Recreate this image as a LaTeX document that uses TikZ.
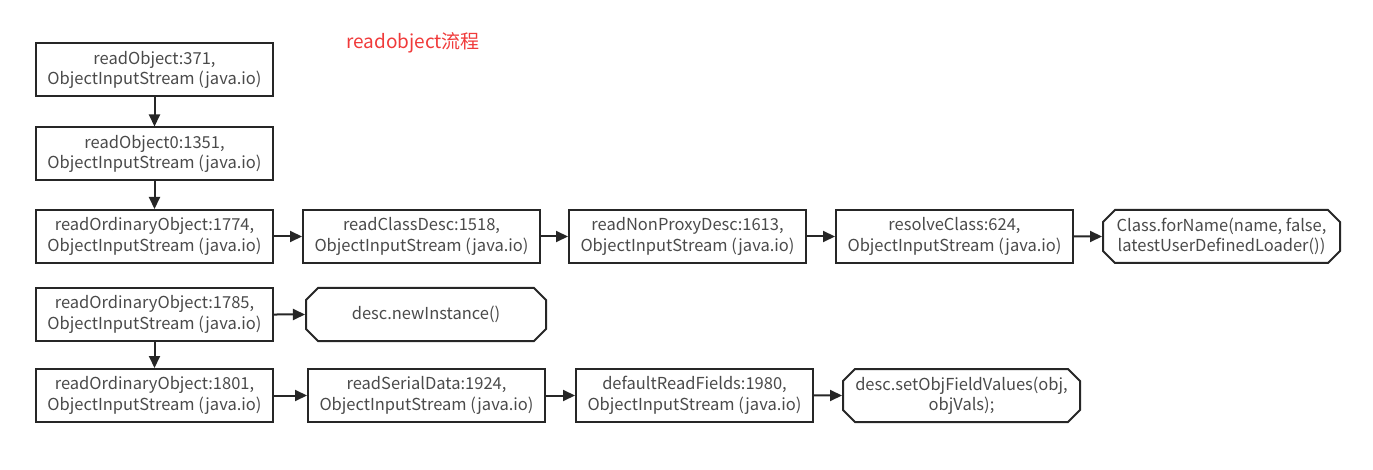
\documentclass[tikz,border=0pt]{standalone}
\usepackage{fontspec}
\setmainfont{Noto Sans CJK SC}
\usepackage{tikz}
\usetikzlibrary{positioning, shapes.misc, arrows.meta}

\definecolor{boxline}{HTML}{262626}
\definecolor{boxtext}{HTML}{4A4A4A}
\definecolor{titlered}{HTML}{F03A3A}

\begin{document}
\begin{tikzpicture}[x = 1pt, y = -1pt,
        callbox/.style = {shape = rectangle, draw = boxline, line width = 2pt,
            minimum width = 237pt, minimum height = 53pt, inner sep = 0pt,
            align = center, text = boxtext, font = \fontsize{16.5}{20.5}\selectfont},
        endbox/.style = {callbox, shape = chamfered rectangle,
            chamfered rectangle xsep = 6pt, chamfered rectangle ysep = 6pt},
        flow/.style = {-{Triangle[length = 12pt, width = 11pt]}, line width = 2pt, draw = boxline}]
            \useasboundingbox (0, 0) rectangle (1373, 470);
            \node [text = titlered, font = \fontsize{19}{22}\selectfont] (title) at (413, 43) {readobject流程};

            \node [callbox] (read) at (154.5, 70) {readObject:371,\\ObjectInputStream (java.io)};
            \node [callbox] (read0) at (154.5, 154) {readObject0:1351,\\ObjectInputStream (java.io)};
            \node [callbox] (ordinary) at (154.5, 236.5) {readOrdinaryObject:1774,\\ObjectInputStream (java.io)};
            \node [callbox] (classdesc) at (421.5, 236.5) {readClassDesc:1518,\\ObjectInputStream (java.io)};
            \node [callbox] (nonproxy) at (687.5, 236.5) {readNonProxyDesc:1613,\\ObjectInputStream (java.io)};
            \node [callbox] (resolve) at (954.5, 236.5) {resolveClass:624,\\ObjectInputStream (java.io)};
            \node [endbox] (forname) at (1221.5, 236.5) {Class.forName(name, false,\\latestUserDefinedLoader())};

            \node [callbox] (ordinary2) at (154.5, 314.5) {readOrdinaryObject:1785,\\ObjectInputStream (java.io)};
            \node [endbox, minimum width = 240pt] (newinst) at (426, 314.5) {desc.newInstance()};

            \node [callbox] (ordinary3) at (154.5, 395.5) {readOrdinaryObject:1801,\\ObjectInputStream (java.io)};
            \node [callbox] (serial) at (426.5, 395.5) {readSerialData:1924,\\ObjectInputStream (java.io)};
            \node [callbox] (fields) at (694.5, 395.5) {defaultReadFields:1980,\\ObjectInputStream (java.io)};
            \node [endbox] (setvals) at (961.5, 395.5) {desc.setObjFieldValues(obj,\\objVals);};

            \draw [flow] (read) -- (read0);
            \draw [flow] (read0) -- (ordinary);
            \draw [flow] (ordinary) -- (classdesc);
            \draw [flow] (classdesc) -- (nonproxy);
            \draw [flow] (nonproxy) -- (resolve);
            \draw [flow] (resolve) -- (forname);
            \draw [flow] (ordinary2) -- (newinst);
            \draw [flow] (ordinary2) -- (ordinary3);
            \draw [flow] (ordinary3) -- (serial);
            \draw [flow] (serial) -- (fields);
            \draw [flow] (fields) -- (setvals);
        \end{tikzpicture}
\end{document}
